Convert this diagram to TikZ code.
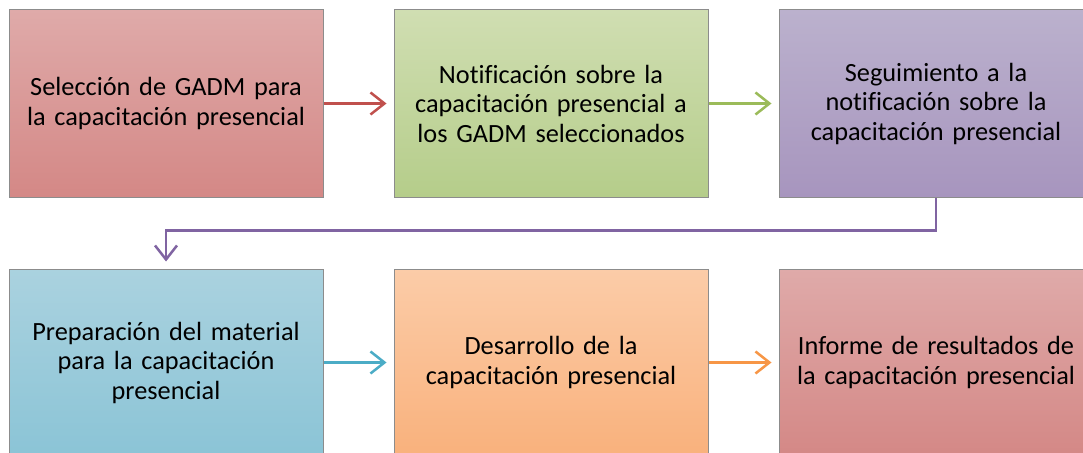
\documentclass[tikz,border=0pt]{standalone}
\usepackage{fontspec}
\setmainfont{Carlito}[Ligatures=CommonOff, WordSpace=0.8]
\usetikzlibrary{arrows.meta}
\definecolor{redT}{HTML}{DFAAA9}
\definecolor{redB}{HTML}{D48886}
\definecolor{greenT}{HTML}{D0DEB2}
\definecolor{greenB}{HTML}{B5CD8A}
\definecolor{purpleT}{HTML}{BBB1CD}
\definecolor{purpleB}{HTML}{A795BE}
\definecolor{blueT}{HTML}{AAD2DF}
\definecolor{blueB}{HTML}{8BC4D6}
\definecolor{orangeT}{HTML}{FBCCA8}
\definecolor{orangeB}{HTML}{F9B17C}
\definecolor{boxline}{HTML}{8C8C8C}
\definecolor{aRed}{HTML}{C0504D}
\definecolor{aGreen}{HTML}{9BBB59}
\definecolor{aPurple}{HTML}{8064A2}
\definecolor{aBlue}{HTML}{4BACC6}
\definecolor{aOrange}{HTML}{F79646}
\begin{document}
\begin{tikzpicture}[x=1pt,y=-1pt,
  stepbox/.style={draw=boxline, line width=1pt, minimum width=314pt, minimum height=187pt,
    text width=306pt, align=center, inner sep=0pt,
    font=\fontsize{26.3pt}{29.5pt}\selectfont},
  flow/.style={line width=2.5pt, -{Straight Barb[length=14pt,width=22pt,line width=2.5pt]}, shorten >=7pt}]
\clip (0,0) rectangle (1083,452);
\fill[white] (0,0) rectangle (1083,452);
\node[stepbox, top color=redT, bottom color=redB] (b1) at (166,103.5) {Selección de GADM para\\la capacitación presencial};
\node[stepbox, top color=greenT, bottom color=greenB] (b2) at (551,103.5) {Notificación sobre la\\capacitación presencial a\\los GADM seleccionados};
\node[stepbox, top color=purpleT, bottom color=purpleB] (b3) at (936,103.5) {Seguimiento a la\\notificación sobre la\\capacitación presencial};
\node[stepbox, top color=blueT, bottom color=blueB] (b4) at (166,362.5) {Preparación del material\\para la capacitación\\presencial};
\node[stepbox, top color=orangeT, bottom color=orangeB] (b5) at (551,362.5) {Desarrollo de la\\capacitación presencial};
\node[stepbox, top color=redT, bottom color=redB] (b6) at (936,362.5) {Informe de resultados de\\la capacitación presencial};
\draw[flow, aRed] (b1.east) -- (b2.west);
\draw[flow, aGreen] (b2.east) -- (b3.west);
\draw[flow, aPurple] (b3.south) -- ++(0,33) -| (b4.north);
\draw[flow, aBlue] (b4.east) -- (b5.west);
\draw[flow, aOrange] (b5.east) -- (b6.west);
\end{tikzpicture}
\end{document}
